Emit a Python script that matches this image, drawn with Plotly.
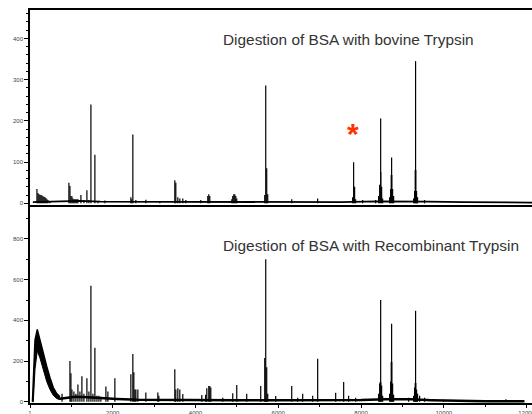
import plotly.graph_objects as go

# ---------------- data ----------------
x_tick_vals = [1, 2000, 4000, 6000, 8000, 10000, 12000]
x_tick_text = ["1", "2000", "4000", "6000", "8000", "10000", "12000"]
x_minor_vals = [1000, 3000, 5000, 7000, 9000, 11000]

top_tick_vals = [0, 100, 200, 300, 400]
bot_tick_vals = [0, 200, 400, 600, 800]

title_top = "Digestion of BSA with bovine Trypsin"
title_bot = "Digestion of BSA with Recombinant Trypsin"

# bovine trypsin spectrum: peak positions / intensities
top_peak_mz = [169, 193, 217, 241, 265, 290, 314, 338, 362, 386, 410, 435, 483,
               941, 966, 990, 1014, 1038, 1062, 1086, 1110, 1135, 1159, 1231, 1304,
               1376, 1424, 1473, 1569, 1642, 1811, 2438, 2462, 2486, 2559, 2800,
               3138, 3500, 3524, 3573, 3621, 3693, 3766, 4128, 4297, 4321, 4345,
               4876, 4900, 4925, 4949, 4973, 4997, 5673, 5697, 5721, 5745, 6325,
               6952, 7797, 7821, 7845, 7870, 8039, 8352, 8425, 8450, 8474, 8498,
               8522, 8690, 8715, 8739, 8763, 8787, 9270, 9294, 9318, 9342, 9366, 9535]
top_peak_int = [35, 25, 22, 21, 20, 19, 17, 16, 15, 13, 10, 8, 5,
                50, 42, 18, 17, 12, 10, 10, 10, 10, 10, 20, 8,
                32, 8, 240, 118, 6, 7, 15, 10, 167, 8, 9,
                5, 56, 50, 15, 12, 12, 8, 8, 18, 22, 18,
                10, 18, 22, 22, 18, 12, 20, 286, 85, 22, 10,
                12, 15, 100, 40, 10, 8, 8, 18, 45, 206, 40,
                12, 15, 35, 111, 35, 18, 12, 30, 345, 30, 15, 8]
top_base_mz = [70, 500, 900, 1200, 1700, 2500, 3500, 4500, 5500, 6500, 7500, 8400, 9000, 9600, 10500, 11500, 12131]
top_base_int = [3, 4, 4, 6, 4, 4, 4, 4, 3, 4, 3, 5, 5, 4, 3, 2, 2]
top_gray_mz = [8474, 8739, 9318]
top_gray_int = [75, 70, 82]

# recombinant trypsin spectrum
bot_peak_mz = [775, 966, 990, 1014, 1062, 1110, 1159, 1207, 1255, 1304, 1376, 1424,
               1473, 1521, 1569, 1618, 1666, 1714, 1835, 1883, 2052, 2438, 2486,
               2510, 2535, 2559, 2607, 2800, 3090, 3114, 3500, 3524, 3573, 3621,
               3693, 4152, 4245, 4273, 4321, 4345, 4370, 4659, 4900, 4997, 5238,
               5576, 5673, 5697, 5721, 5745, 5938, 6325, 6470, 6590, 6832, 6952,
               7387, 7580, 7700, 7870, 8425, 8450, 8474, 8498, 8522, 8690, 8715,
               8739, 8763, 8787, 9150, 9270, 9294, 9318, 9342, 9366, 9415, 9535,
               10000, 10500, 11500]
bot_peak_int = [40, 200, 140, 60, 50, 40, 85, 50, 125, 40, 115, 50,
                570, 40, 265, 30, 30, 25, 75, 50, 115, 135, 235,
                145, 60, 60, 60, 45, 45, 30, 160, 60, 67, 60,
                38, 33, 35, 67, 77, 77, 70, 20, 42, 82, 40,
                77, 215, 700, 170, 40, 28, 78, 20, 40, 30, 211,
                44, 97, 30, 20, 40, 90, 500, 80, 30, 40, 100,
                383, 90, 35, 20, 30, 70, 447, 60, 40, 30, 20,
                10, 8, 12]
bot_base_mz = [725, 900, 1100, 1400, 1700, 2100, 2600, 3200, 4000, 5000, 6000, 7000, 8000, 8600, 9200, 9700, 10300, 11000, 11950]
bot_base_int = [15, 18, 25, 22, 18, 14, 10, 9, 8, 8, 8, 8, 9, 12, 12, 8, 4, 3, 3]
bot_gray_mz = [8474, 8739, 9318]
bot_gray_int = [95, 195, 90]

# broad low-mass hump (upper / lower edge of the noisy band)
hump_mz = [60, 81, 122, 177, 242, 322, 404, 484, 563, 646, 725]
hump_upper = [0, 140, 303, 355, 300, 240, 175, 118, 70, 40, 25]
hump_lower = [0, 0, 160, 250, 215, 160, 100, 60, 32, 16, 10]


def sticks(mz, inten):
    xs, ys = [], []
    for m, h in zip(mz, inten):
        xs += [m, m, None]
        ys += [0, h, None]
    return xs, ys


fig = go.Figure()

# ---- top panel ----
fig.add_trace(go.Bar(x=top_gray_mz, y=top_gray_int, width=55, marker=dict(color="#a0a0a0", line=dict(width=0)),
                     xaxis="x", yaxis="y", showlegend=False, hoverinfo="skip"))
fig.add_trace(go.Scatter(x=top_base_mz, y=top_base_int, mode="lines", line=dict(color="black", width=1.8),
                         xaxis="x", yaxis="y", showlegend=False))
sx, sy = sticks(top_peak_mz, top_peak_int)
fig.add_trace(go.Scatter(x=sx, y=sy, mode="lines", line=dict(color="black", width=1.2),
                         xaxis="x", yaxis="y", showlegend=False))

# ---- bottom panel ----
fig.add_trace(go.Bar(x=bot_gray_mz, y=bot_gray_int, width=60, marker=dict(color="#a0a0a0", line=dict(width=0)),
                     xaxis="x2", yaxis="y2", showlegend=False, hoverinfo="skip"))
fig.add_trace(go.Scatter(x=hump_mz, y=hump_lower, mode="lines", line=dict(color="black", width=1),
                         xaxis="x2", yaxis="y2", showlegend=False))
fig.add_trace(go.Scatter(x=hump_mz, y=hump_upper, mode="lines", line=dict(color="black", width=1.5),
                         fill="tonexty", fillcolor="black", xaxis="x2", yaxis="y2", showlegend=False))
fig.add_trace(go.Scatter(x=bot_base_mz, y=bot_base_int, mode="lines", line=dict(color="black", width=2.5),
                         xaxis="x2", yaxis="y2", showlegend=False))
sx, sy = sticks(bot_peak_mz, bot_peak_int)
fig.add_trace(go.Scatter(x=sx, y=sy, mode="lines", line=dict(color="black", width=1.2),
                         xaxis="x2", yaxis="y2", showlegend=False))

xrange = [1, 12131]
tickfont = dict(family="Liberation Sans, Arial, sans-serif", size=6, color="#444444")
titlefont = dict(family="Liberation Sans, Arial, sans-serif", size=15.4, color="#333333")

fig.update_layout(
    template="none",
    width=532, height=414,
    margin=dict(l=30, r=0, t=10, b=11, autoexpand=False),
    paper_bgcolor="white", plot_bgcolor="white",
    bargap=0, barmode="overlay",
    xaxis=dict(domain=[0, 1], anchor="y", range=xrange, showgrid=False, zeroline=False, automargin=False,
               showline=True, linecolor="black", linewidth=1.5, mirror=True,
               showticklabels=False, ticks=""),
    xaxis2=dict(domain=[0, 1], anchor="y2", range=xrange, showgrid=False, zeroline=False, automargin=False,
                showline=True, linecolor="black", linewidth=1.5, mirror=True,
                tickmode="array", tickvals=x_tick_vals, ticktext=x_tick_text, ticklabeloverflow="allow",
                ticks="outside", ticklen=3, tickcolor="black", tickwidth=1, tickfont=tickfont,
                minor=dict(tickvals=x_minor_vals, ticks="outside", ticklen=2, tickcolor="black", showgrid=False)),
    yaxis=dict(domain=[0.5038, 1], anchor="x", range=[-4, 469], showgrid=False, zeroline=False, automargin=False,
               showline=True, linecolor="black", linewidth=1.5,
               tickmode="array", tickvals=top_tick_vals, ticks="outside", ticklen=4,
               tickcolor="black", tickfont=tickfont,
               minor=dict(dtick=20, ticks="outside", ticklen=2, tickcolor="black", showgrid=False)),
    yaxis2=dict(domain=[0, 0.4987], anchor="x2", range=[-6, 957], showgrid=False, zeroline=False, automargin=False,
                showline=True, linecolor="black", linewidth=1.5,
                tickmode="array", tickvals=bot_tick_vals, ticks="outside", ticklen=4,
                tickcolor="black", tickfont=tickfont,
                minor=dict(dtick=100, ticks="outside", ticklen=2, tickcolor="black", showgrid=False)),
    annotations=[
        dict(text=title_top, xref="paper", yref="paper", x=0.381, y=0.924, xanchor="left", yanchor="middle",
             showarrow=False, font=titlefont),
        dict(text=title_bot, xref="paper", yref="paper", x=0.381, y=0.402, xanchor="left", yanchor="middle",
             showarrow=False, font=titlefont),
        dict(text="<b>*</b>", xref="x", yref="y", x=7800, y=170, xanchor="center", yanchor="middle",
             showarrow=False, font=dict(family="Liberation Sans, Arial", size=30, color="#ff3300")),
    ],
)

fig.write_html("out.html", config={"displayModeBar": False},
               post_script="document.body.style.margin='0';document.body.style.overflow='hidden';")
